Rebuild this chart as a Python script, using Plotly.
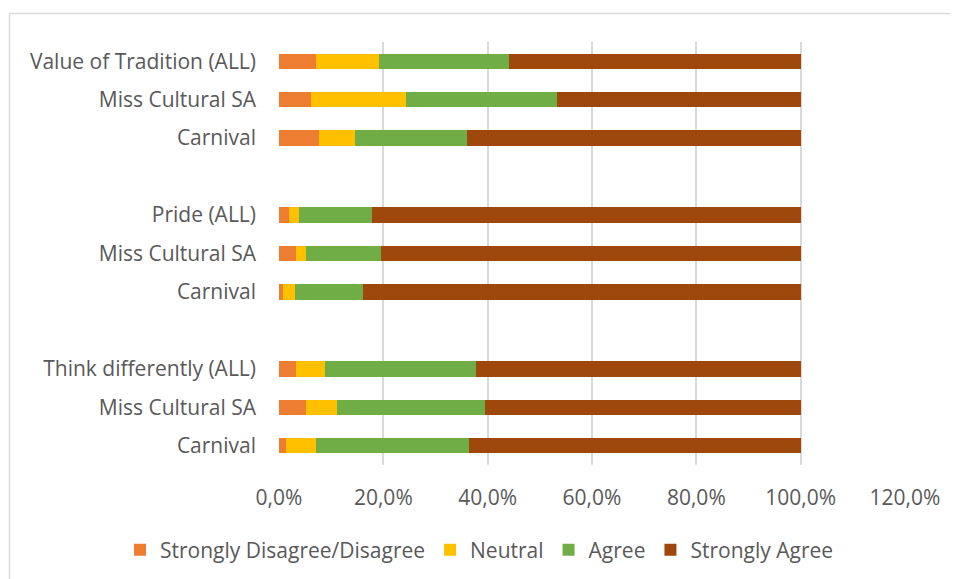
import plotly.graph_objects as go

# Rows listed top to bottom; None marks a blank spacer row
categories = [
    "Value of Tradition (ALL)", "Miss Cultural SA", "Carnival", None,
    "Pride (ALL)", "Miss Cultural SA", "Carnival", None,
    "Think differently (ALL)", "Miss Cultural SA", "Carnival",
]
disagree = [7.0, 6.2, 7.6, None, 1.9, 3.3, 0.7, None, 3.2, 5.1, 1.4]
neutral = [12.1, 18.2, 7.0, None, 2.0, 1.8, 2.4, None, 5.7, 6.1, 5.6]
agree = [24.9, 28.8, 21.5, None, 13.9, 14.5, 13.0, None, 28.9, 28.2, 29.5]
strongly_agree = [56.0, 46.8, 63.9, None, 82.2, 80.4, 83.9, None, 62.2, 60.6, 63.5]

series_names = ["Strongly Disagree/Disagree", "Neutral", "Agree", "Strongly Agree"]
series_colors = ["#ED7D31", "#FFC000", "#70AD47", "#9E480E"]
x_ticks = [0, 20, 40, 60, 80, 100, 120]

n = len(categories)
ypos = [n - 1 - i for i in range(n)]

fig = go.Figure()
for name, vals, col in zip(series_names, [disagree, neutral, agree, strongly_agree], series_colors):
    ys = [y for y, v in zip(ypos, vals) if v is not None]
    xs = [v for v in vals if v is not None]
    fig.add_trace(go.Bar(
        x=xs, y=ys, name=name, orientation="h",
        marker=dict(color=col, line=dict(width=0)),
        width=0.4,
    ))

tick_y = [y for y, c in zip(ypos, categories) if c is not None]
tick_t = [c for c in categories if c is not None]

font = "'Open Sans', Lato, sans-serif"
fig.update_layout(
    barmode="stack",
    width=958, height=579,
    margin=dict(l=271, r=61, t=34, b=122, autoexpand=False),
    paper_bgcolor="white", plot_bgcolor="white",
    separators=",.",
    font=dict(family=font, size=21, color="#595959"),
    showlegend=True,
    legend=dict(
        orientation="h",
        x=(112 - 271) / 626, xanchor="left",
        y=(457 - 542) / 423, yanchor="middle",
        font=dict(size=21, color="#595959"),
        traceorder="normal",
        itemwidth=30,
    ),
    xaxis=dict(
        range=[0, 120], tickvals=x_ticks,
        ticktext=[f"{v:.1f}%".replace(".", ",") for v in x_ticks],
        showgrid=True, gridcolor="#d9d9d9", gridwidth=1.5,
        zeroline=False, showline=False, ticks="",
        ticklabelstandoff=18,
    ),
    yaxis=dict(
        range=[-0.5, n - 0.5], tickvals=tick_y, ticktext=tick_t,
        showgrid=False, zeroline=False, showline=False, ticks="",
        ticklabelstandoff=22,
    ),
    shapes=[
        dict(type="line", xref="paper", yref="paper",
             x0=(1.5 - 271) / 626, x1=(958 - 271) / 626,
             y0=(457 - 5.5) / 423, y1=(457 - 5.5) / 423,
             line=dict(color="#d9d9d9", width=1.5)),
        dict(type="line", xref="paper", yref="paper",
             x0=(1.5 - 271) / 626, x1=(1.5 - 271) / 626,
             y0=(457 - 5.5) / 423, y1=(457 - 580) / 423,
             line=dict(color="#d9d9d9", width=1.5)),
    ],
)

fig.write_html("out.html")
